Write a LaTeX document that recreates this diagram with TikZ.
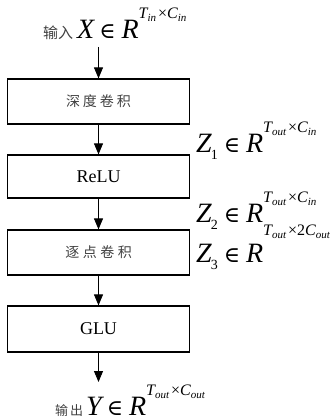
\documentclass[tikz,border=0pt]{standalone}
\usepackage{fontspec}
\setmainfont{Liberation Serif}
\newfontfamily\cjk{Noto Sans CJK SC}
\newfontfamily\symfont{DejaVu Serif}
\usetikzlibrary{arrows.meta}

% large italic symbol, membership sign, small subscripts and the size superscript
\newcommand\bigit[1]{{\fontsize{28}{28}\selectfont\itshape #1}}
\newcommand\elem{{\symfont\fontsize{22}{22}\selectfont ∈}}
\newcommand\subsc[1]{\raisebox{-3pt}{\fontsize{11}{11}\selectfont\itshape #1}}
\newcommand\expo[3]{\raisebox{#1}{\fontsize{16}{16}\selectfont\itshape T\subsc{#2}\hspace{2pt}\upshape ×\itshape #3}}
\newcommand\zsub[1]{\hspace{-1pt}\raisebox{-7pt}{\fontsize{14}{14}\selectfont #1}}
\newcommand\cjklabel[2]{{\cjk\fontsize{#1}{#1}\selectfont\color{black!75}#2}}

\begin{document}
\begin{tikzpicture}[x=1pt,y=-1pt,
  stage/.style={draw, line width=1.2pt, minimum width=182pt, minimum height=45pt,
    inner sep=0pt, font=\fontsize{18}{18}\selectfont},
  flow/.style={line width=1pt, -{Triangle[length=11pt,width=9pt]}},
  lbl/.style={anchor=base west, inner sep=0pt}]
\useasboundingbox (0,0) rectangle (332,420);

% processing stages
\node[stage] (b1) at (98.5,101.5) {\cjklabel{14}{深\hspace{3pt}度\hspace{3pt}卷\hspace{3pt}积}};
\node[stage, minimum height=43pt] (b2) at (98.5,176.5) {ReLU};
\node[stage] (b3) at (98.5,252.5) {\cjklabel{14}{逐\hspace{3.5pt}点\hspace{3.5pt}卷\hspace{3.5pt}积}};
\node[stage, minimum height=46pt] (b4) at (98.5,329) {GLU};

% input and output
\node[lbl] (inlbl) at (43,38) {\cjklabel{15}{输入}\hspace{4pt}\bigit{X}\hspace{5pt}\elem\hspace{6pt}\bigit{R}\expo{20pt}{in}{C\subsc{in}}};
\node[lbl] (outlbl) at (55,415) {\cjklabel{13}{输\hspace{2pt}出}\hspace{3pt}\bigit{Y}\hspace{5pt}\elem\hspace{6pt}\bigit{R}\expo{20pt}{out}{C\subsc{out}}};
\coordinate (in0) at (98.5,47);
\coordinate (out0) at (98.5,382);

% intermediate shapes
\node[lbl] (z1) at (196,152) {\bigit{Z}\zsub{1}\hspace{6pt}\elem\hspace{6pt}\bigit{R}\expo{20pt}{out}{C\subsc{in}}};
\node[lbl] (z2) at (196,222) {\bigit{Z}\zsub{2}\hspace{6pt}\elem\hspace{6pt}\bigit{R}\expo{20pt}{out}{C\subsc{in}}};
\node[lbl] (z3) at (196,262) {\bigit{Z}\zsub{3}\hspace{6pt}\elem\hspace{6pt}\bigit{R}\expo{27pt}{out}{\upshape 2\itshape C\subsc{out}}};

% connectors
\draw[flow] (in0) -- (b1.north);
\draw[flow] (b1) -- (b2);
\draw[flow] (b2) -- (b3);
\draw[flow] (b3) -- (b4);
\draw[flow] (b4.south) -- (out0);
\end{tikzpicture}
\end{document}
